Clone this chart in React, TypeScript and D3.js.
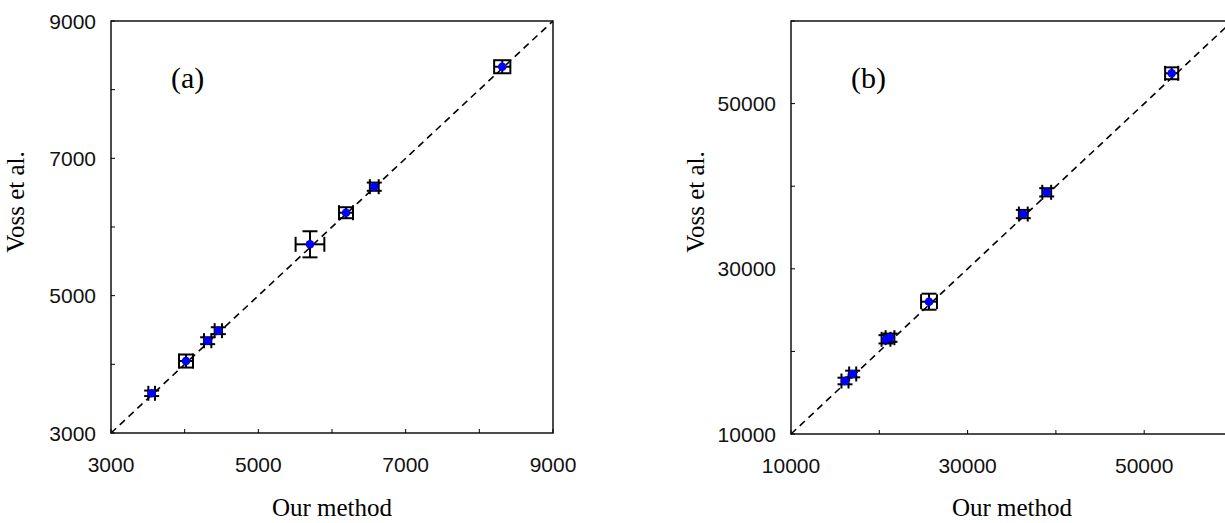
import React from "react";
import * as d3 from "d3";

// Panel (a)
const ourA = [3552, 4018, 4312, 4457, 5701, 6190, 6574, 8311];
const vossA = [3578, 4048, 4344, 4490, 5748, 6208, 6587, 8334];
const errXA = [45, 95, 50, 50, 195, 95, 60, 110];
const errYA = [40, 95, 50, 50, 190, 80, 60, 95];
const domainA = [3000, 9000];
const ticksA = [3000, 4000, 5000, 6000, 7000, 8000, 9000];
const labelsA = [3000, 5000, 7000, 9000];

// Panel (b)
const ourB = [16115, 16985, 20760, 21210, 25630, 36310, 38960, 53110];
const vossB = [16416, 17264, 21465, 21660, 26017, 36630, 39260, 53670];
const errXB = [400, 400, 500, 500, 900, 500, 500, 740];
const errYB = [400, 400, 500, 500, 970, 500, 500, 720];
const domainB = [10000, 60000];
const ticksB = [10000, 20000, 30000, 40000, 50000, 60000];
const labelsB = [10000, 30000, 50000];

const xTitle = "Our method";
const yTitle = "Voss et al.";

type PanelProps = {
  left: number;
  right: number;
  top: number;
  bottom: number;
  domain: number[];
  ticks: number[];
  labels: number[];
  xs: number[];
  ys: number[];
  ex: number[];
  ey: number[];
  tag: string;
};

function Panel(p: PanelProps) {
  const x = d3.scaleLinear().domain(p.domain).range([p.left, p.right]);
  const y = d3.scaleLinear().domain(p.domain).range([p.bottom, p.top]);
  const cap = 7.5;
  const tickLen = 4;
  const line = d3.line<number>().x((d) => x(d)).y((d) => y(d));
  const sans = "'Liberation Sans', Arial, sans-serif";
  const serif = "'Liberation Serif', 'Times New Roman', serif";
  return (
    <g>
      <rect
        x={p.left}
        y={p.top}
        width={p.right - p.left}
        height={p.bottom - p.top}
        fill="none"
        stroke="#000"
        strokeWidth={1.4}
      />
      {p.ticks.map((t) => (
        <g key={"t" + t}>
          <line x1={x(t)} x2={x(t)} y1={p.bottom} y2={p.bottom - tickLen} stroke="#000" strokeWidth={1} />
          <line x1={p.left} x2={p.left + tickLen} y1={y(t)} y2={y(t)} stroke="#000" strokeWidth={1} />
        </g>
      ))}
      {p.labels.map((t) => (
        <g key={"l" + t} fontFamily={sans} fontSize={21} fill="#111">
          <text x={x(t)} y={p.bottom + 39} textAnchor="middle">{t}</text>
          <text x={p.left - 15} y={y(t)} textAnchor="end" dominantBaseline="central">{t}</text>
        </g>
      ))}
      <path
        d={line(p.domain) || ""}
        fill="none"
        stroke="#000"
        strokeWidth={1.6}
        strokeDasharray="7,5"
      />
      {p.xs.map((v, i) => {
        const cx = x(v);
        const cy = y(p.ys[i]);
        const x0 = x(v - p.ex[i]);
        const x1 = x(v + p.ex[i]);
        const y0 = y(p.ys[i] - p.ey[i]);
        const y1 = y(p.ys[i] + p.ey[i]);
        return (
          <g key={"e" + i} stroke="#000" strokeWidth={2} fill="none">
            <line x1={x0} x2={x1} y1={cy} y2={cy} />
            <line x1={x0} x2={x0} y1={cy - cap} y2={cy + cap} />
            <line x1={x1} x2={x1} y1={cy - cap} y2={cy + cap} />
            <line x1={cx} x2={cx} y1={y0} y2={y1} />
            <line x1={cx - cap} x2={cx + cap} y1={y0} y2={y0} />
            <line x1={cx - cap} x2={cx + cap} y1={y1} y2={y1} />
          </g>
        );
      })}
      {p.xs.map((v, i) => (
        <circle key={"c" + i} cx={x(v)} cy={y(p.ys[i])} r={4.3} fill="#0000ff" />
      ))}
      <text x={p.left + 60} y={p.top + 67} fontFamily={serif} fontSize={30}>{p.tag}</text>
      <text
        x={p.left + 221}
        y={516}
        textAnchor="middle"
        fontFamily={serif}
        fontSize={25}
      >
        {xTitle}
      </text>
      <text
        transform={`translate(${p.left - 87},${202}) rotate(-90)`}
        textAnchor="middle"
        fontFamily={serif}
        fontSize={25}
      >
        {yTitle}
      </text>
    </g>
  );
}

export default function App() {
  return (
    <svg
      width={1225}
      height={523}
      style={{ position: "absolute", left: 0, top: 0, background: "#fff" }}
    >
      <rect x={0} y={0} width={1225} height={523} fill="#fff" />
      <Panel
        left={111}
        right={553}
        top={21}
        bottom={433}
        domain={domainA}
        ticks={ticksA}
        labels={labelsA}
        xs={ourA}
        ys={vossA}
        ex={errXA}
        ey={errYA}
        tag="(a)"
      />
      <Panel
        left={791}
        right={1232.5}
        top={21}
        bottom={434}
        domain={domainB}
        ticks={ticksB}
        labels={labelsB}
        xs={ourB}
        ys={vossB}
        ex={errXB}
        ey={errYB}
        tag="(b)"
      />
    </svg>
  );
}
